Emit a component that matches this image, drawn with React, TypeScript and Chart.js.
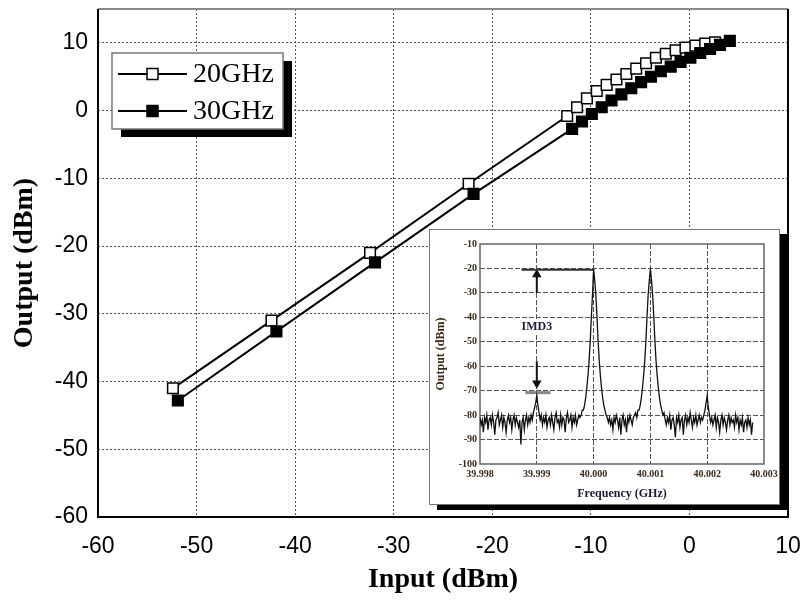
import React, { useEffect, useRef } from "react";
import { Chart, registerables } from "chart.js";

Chart.register(...registerables);

// ---------------- main chart data (Input dBm -> Output dBm) ----------------
const SERIES_LABELS = ["20GHz", "30GHz"];
const INPUT_20GHZ = [-52.4, -42.4, -32.4, -22.4, -12.4, -11.4, -10.4, -9.4, -8.4, -7.4, -6.4, -5.4, -4.4, -3.4, -2.4, -1.4, -0.4, 0.6, 1.6, 2.6];
const OUTPUT_20GHZ = [-41, -31, -21, -10.8, -0.8, 0.5, 1.8, 2.9, 3.8, 4.6, 5.4, 6.2, 7.0, 7.8, 8.4, 8.9, 9.3, 9.6, 9.9, 10.1];
const INPUT_30GHZ = [-51.9, -41.9, -31.9, -21.9, -11.9, -10.9, -9.9, -8.9, -7.9, -6.9, -5.9, -4.9, -3.9, -2.9, -1.9, -0.9, 0.1, 1.1, 2.1, 3.1, 4.1];
const OUTPUT_30GHZ = [-42.8, -32.6, -22.4, -12.3, -2.7, -1.6, -0.5, 0.5, 1.5, 2.4, 3.3, 4.2, 5.0, 5.8, 6.5, 7.2, 7.8, 8.5, 9.1, 9.7, 10.3];
const MAIN_X_TICKS = [-60, -50, -40, -30, -20, -10, 0, 10];
const MAIN_Y_TICKS = [-60, -50, -40, -30, -20, -10, 0, 10];
const MAIN_X_MIN = -60, MAIN_X_MAX = 10;
const MAIN_Y_MIN = -60, MAIN_Y_MAX = 15;

// ---------------- inset: two-tone spectrum ----------------
const SPECTRUM_START_GHZ = 39.998;
const SPECTRUM_STEP_GHZ = 0.00002;
const SPECTRUM_DBM = [
  -81, -84, -82, -87, -81, -83, -80, -86, -82, -81,
  -84, -80, -83, -88, -82, -81, -79, -84, -82, -80,
  -85, -81, -83, -87, -82, -80, -83, -81, -86, -82,
  -80, -84, -81, -83, -85, -82, -92, -83, -81, -86,
  -82, -80, -84, -81, -83, -80, -82, -79, -77, -75,
  -72, -76, -79, -82, -80, -84, -81, -83, -80, -85,
  -82, -81, -84, -80, -83, -86, -81, -79, -83, -82,
  -85, -80, -84, -81, -82, -87, -81, -79, -83, -82,
  -80, -85, -81, -83, -80, -84, -82, -80, -81, -80,
  -78, -78, -76, -73, -69, -64, -58, -50, -40, -31,
  -20, -25, -31, -40, -50, -58, -64, -69, -73, -76,
  -78, -80, -81, -83, -81, -84, -82, -86, -81, -83,
  -80, -82, -85, -81, -88, -82, -80, -84, -82, -87,
  -81, -83, -80, -82, -84, -81, -80, -79, -81, -78,
  -78, -76, -73, -69, -64, -58, -50, -40, -31, -25,
  -20, -25, -31, -40, -50, -58, -64, -69, -73, -76,
  -78, -80, -79, -82, -84, -81, -83, -80, -86, -82,
  -81, -84, -89, -81, -83, -80, -85, -82, -81, -88,
  -82, -80, -84, -81, -83, -79, -82, -85, -81, -83,
  -80, -84, -82, -80, -83, -81, -82, -80, -78, -75,
  -72, -77, -80, -83, -81, -84, -82, -80, -85, -81,
  -83, -87, -82, -80, -84, -81, -83, -86, -82, -80,
  -84, -81, -83, -82, -85, -80, -83, -81, -86, -82,
  -84, -81, -87, -83, -82, -85, -81, -84, -82, -88,
  -83,
];
const INSET_X_TICKS = [39.998, 39.999, 40.0, 40.001, 40.002, 40.003];
const INSET_Y_TICKS = [-100, -90, -80, -70, -60, -50, -40, -30, -20, -10];
const INSET_X_MIN = 39.998, INSET_X_MAX = 40.003;
const INSET_Y_MIN = -100, INSET_Y_MAX = -10;
// annotation marks of the inset (GHz, dBm)
const CARRIER_LEVEL_X = [39.99873, 40.0];
const CARRIER_LEVEL_Y = [-20.5, -20.5];
const IMD_LEVEL_X = [39.9988, 39.99924];
const IMD_LEVEL_Y = [-70.8, -70.8];
const ARROW_UP_X = [39.999, 39.999];
const ARROW_UP_Y = [-30, -22.5];
const ARROW_DOWN_X = [39.999, 39.999];
const ARROW_DOWN_Y = [-58, -67];
const IMD_LABEL = "IMD3";
const IMD_LABEL_POS = [39.999, -44];

const pts = (xs: number[], ys: number[]) => xs.map((x, i) => ({ x, y: ys[i] }));

const near = (a: number, b: number) => Math.abs(a - b) < 1e-7;

const mainFrame = {
  id: "mainFrame",
  afterDatasetsDraw(chart: any) {
    const { ctx, chartArea: a } = chart;
    ctx.save();
    ctx.lineWidth = 2;
    ctx.strokeStyle = "#8a8a8a";
    ctx.beginPath();
    ctx.moveTo(a.left, a.top);
    ctx.lineTo(a.right, a.top);
    ctx.stroke();
    ctx.strokeStyle = "#000";
    ctx.beginPath();
    ctx.moveTo(a.right, a.top);
    ctx.lineTo(a.right, a.bottom);
    ctx.lineTo(a.left, a.bottom);
    ctx.lineTo(a.left, a.top);
    ctx.stroke();
    ctx.restore();
  },
};

const mainLegend = {
  id: "mainLegend",
  afterDraw(chart: any) {
    const { ctx, chartArea: a } = chart;
    const bx = a.left + 14, by = a.top + 44, bw = 171, bh = 76;
    ctx.save();
    ctx.fillStyle = "#000";
    ctx.fillRect(bx + 9, by + 8, bw, bh);
    ctx.fillStyle = "#fff";
    ctx.fillRect(bx, by, bw, bh);
    ctx.lineWidth = 1.5;
    ctx.strokeStyle = "#777";
    ctx.strokeRect(bx, by, bw, bh);
    const rows = [
      { label: SERIES_LABELS[0], fill: "#fff", y: by + 21 },
      { label: SERIES_LABELS[1], fill: "#000", y: by + 58 },
    ];
    rows.forEach((r) => {
      ctx.strokeStyle = "#000";
      ctx.lineWidth = 2;
      ctx.beginPath();
      ctx.moveTo(bx + 6, r.y);
      ctx.lineTo(bx + 75, r.y);
      ctx.stroke();
      ctx.fillStyle = r.fill;
      ctx.lineWidth = 1.5;
      ctx.fillRect(bx + 35, r.y - 5.5, 11, 11);
      ctx.strokeRect(bx + 35, r.y - 5.5, 11, 11);
      ctx.fillStyle = "#000";
      ctx.font = "28px 'Liberation Serif'";
      ctx.textBaseline = "middle";
      ctx.textAlign = "left";
      ctx.fillText(r.label, bx + 81, r.y + 1);
    });
    ctx.restore();
  },
};

const insetFrame = {
  id: "insetFrame",
  beforeDatasetsDraw(chart: any) {
    const { ctx, chartArea: a } = chart;
    ctx.save();
    ctx.lineWidth = 1.5;
    ctx.strokeStyle = "#666";
    ctx.strokeRect(a.left, a.top, a.right - a.left, a.bottom - a.top);
    ctx.restore();
  },
  afterDraw(chart: any) {
    const { ctx, scales } = chart;
    const px = scales.x.getPixelForValue(IMD_LABEL_POS[0]);
    const py = scales.y.getPixelForValue(IMD_LABEL_POS[1]);
    ctx.save();
    ctx.font = "bold 12px 'Liberation Serif'";
    const w = ctx.measureText(IMD_LABEL).width;
    ctx.fillStyle = "#fff";
    ctx.fillRect(px - w / 2 - 1, py - 7, w + 2, 14);
    ctx.fillStyle = "#1c1c3a";
    ctx.textAlign = "center";
    ctx.textBaseline = "middle";
    ctx.fillText(IMD_LABEL, px, py);
    ctx.restore();
  },
};

export default function App() {
  const mainRef = useRef<HTMLCanvasElement | null>(null);
  const insetRef = useRef<HTMLCanvasElement | null>(null);

  useEffect(() => {
    const main = new Chart(mainRef.current as HTMLCanvasElement, {
      type: "line",
      data: {
        datasets: [
          {
            label: SERIES_LABELS[1],
            data: pts(INPUT_30GHZ, OUTPUT_30GHZ),
            borderColor: "#000",
            borderWidth: 2,
            pointStyle: "rect",
            pointRadius: 7.5,
            pointBackgroundColor: "#000",
            pointBorderColor: "#000",
            pointBorderWidth: 1.5,
            order: 1,
          },
          {
            label: SERIES_LABELS[0],
            data: pts(INPUT_20GHZ, OUTPUT_20GHZ),
            borderColor: "#000",
            borderWidth: 2,
            pointStyle: "rect",
            pointRadius: 7.5,
            pointBackgroundColor: "#fff",
            pointBorderColor: "#000",
            pointBorderWidth: 1.5,
            order: 2,
          },
        ],
      },
      options: {
        animation: false,
        responsive: false,
        layout: { padding: { left: 0, top: 7, right: 16, bottom: 0 } },
        plugins: { legend: { display: false }, tooltip: { enabled: false } },
        scales: {
          x: {
            type: "linear",
            min: MAIN_X_MIN,
            max: MAIN_X_MAX,
            afterBuildTicks: (s: any) => {
              s.ticks = MAIN_X_TICKS.map((v) => ({ value: v }));
            },
            ticks: {
              font: { family: "'Liberation Sans', Arial", size: 23 },
              color: "#000",
              padding: 16,
              maxRotation: 0,
              autoSkip: false,
            },
            grid: {
              drawTicks: false,
              lineWidth: 1,
              color: (c: any) =>
                c.tick && (near(c.tick.value, MAIN_X_MIN) || near(c.tick.value, MAIN_X_MAX)) ? "rgba(0,0,0,0)" : "#555",
            },
            border: { display: false, dash: [2, 2] },
            title: {
              display: true,
              text: "Input (dBm)",
              font: { family: "'Liberation Serif'", size: 28, weight: "bold" },
              color: "#000",
              padding: { top: 9, bottom: 9 },
            },
            afterFit: (s: any) => {
              s.height = 89;
              s.paddingLeft = 0;
              s.paddingRight = 0;
            },
          },
          y: {
            type: "linear",
            min: MAIN_Y_MIN,
            max: MAIN_Y_MAX,
            afterBuildTicks: (s: any) => {
              s.ticks = MAIN_Y_TICKS.map((v) => ({ value: v }));
            },
            ticks: {
              font: { family: "'Liberation Sans', Arial", size: 23 },
              color: "#000",
              padding: 10,
              autoSkip: false,
            },
            grid: {
              drawTicks: false,
              lineWidth: 1,
              color: (c: any) => (c.tick && near(c.tick.value, MAIN_Y_MIN) ? "rgba(0,0,0,0)" : "#555"),
            },
            border: { display: false, dash: [2, 2] },
            title: {
              display: true,
              text: "Output (dBm)",
              font: { family: "'Liberation Serif'", size: 28, weight: "bold" },
              color: "#000",
              padding: { top: 8, bottom: 8 },
            },
            afterFit: (s: any) => {
              s.width = 98;
              s.paddingTop = 0;
              s.paddingBottom = 0;
            },
          },
        },
      },
      plugins: [mainFrame, mainLegend],
    } as any);

    const inset = new Chart(insetRef.current as HTMLCanvasElement, {
      type: "line",
      data: {
        datasets: [
          {
            data: SPECTRUM_DBM.map((y, i) => ({ x: SPECTRUM_START_GHZ + i * SPECTRUM_STEP_GHZ, y })),
            borderColor: "#111",
            borderWidth: 1.3,
            pointRadius: 0,
          },
          {
            data: pts(CARRIER_LEVEL_X, CARRIER_LEVEL_Y),
            borderColor: "#333",
            borderWidth: 2,
            pointRadius: 0,
          },
          {
            data: pts(IMD_LEVEL_X, IMD_LEVEL_Y),
            borderColor: "#888",
            borderWidth: 3,
            pointRadius: 0,
          },
          {
            data: pts(ARROW_UP_X, ARROW_UP_Y),
            borderColor: "#111",
            borderWidth: 2,
            pointRadius: [0, 3.5],
            pointStyle: "triangle",
            pointRotation: 0,
            pointBackgroundColor: "#111",
            pointBorderColor: "#111",
          },
          {
            data: pts(ARROW_DOWN_X, ARROW_DOWN_Y),
            borderColor: "#111",
            borderWidth: 2,
            pointRadius: [0, 3.5],
            pointStyle: "triangle",
            pointRotation: 180,
            pointBackgroundColor: "#111",
            pointBorderColor: "#111",
          },
        ],
      },
      options: {
        animation: false,
        responsive: false,
        layout: { padding: { left: 0, top: 14, right: 15, bottom: 0 } },
        plugins: { legend: { display: false }, tooltip: { enabled: false } },
        scales: {
          x: {
            type: "linear",
            min: INSET_X_MIN,
            max: INSET_X_MAX,
            afterBuildTicks: (s: any) => {
              s.ticks = INSET_X_TICKS.map((v) => ({ value: v }));
            },
            ticks: {
              callback: (v: any) => Number(v).toFixed(3),
              font: { family: "'Liberation Serif'", size: 10, weight: "bold" },
              color: "#3a2a1a",
              padding: 4,
              maxRotation: 0,
              autoSkip: false,
            },
            grid: {
              drawTicks: false,
              lineWidth: 1,
              color: (c: any) =>
                c.tick && (near(c.tick.value, INSET_X_MIN) || near(c.tick.value, INSET_X_MAX)) ? "rgba(0,0,0,0)" : "#555",
            },
            border: { display: false, dash: [5, 2] },
            title: {
              display: true,
              text: "Frequency (GHz)",
              font: { family: "'Liberation Serif'", size: 12, weight: "bold" },
              color: "#1c1c3a",
              padding: { top: 3, bottom: 3 },
            },
            afterFit: (s: any) => {
              s.height = 40;
              s.paddingLeft = 0;
              s.paddingRight = 0;
            },
          },
          y: {
            type: "linear",
            min: INSET_Y_MIN,
            max: INSET_Y_MAX,
            afterBuildTicks: (s: any) => {
              s.ticks = INSET_Y_TICKS.map((v) => ({ value: v }));
            },
            ticks: {
              font: { family: "'Liberation Serif'", size: 10, weight: "bold" },
              color: "#3a2a1a",
              padding: 3,
              autoSkip: false,
            },
            grid: {
              drawTicks: false,
              lineWidth: 1,
              color: (c: any) =>
                c.tick && (near(c.tick.value, INSET_Y_MIN) || near(c.tick.value, INSET_Y_MAX)) ? "rgba(0,0,0,0)" : "#555",
            },
            border: { display: false, dash: [5, 2] },
            title: {
              display: true,
              text: "Output (dBm)",
              font: { family: "'Liberation Serif'", size: 12, weight: "bold" },
              color: "#3a2a1a",
              padding: { top: 4, bottom: 4 },
            },
            afterFit: (s: any) => {
              s.width = 50;
              s.paddingTop = 0;
              s.paddingBottom = 0;
            },
          },
        },
      },
      plugins: [insetFrame],
    } as any);

    return () => {
      main.destroy();
      inset.destroy();
    };
  }, []);

  return (
    <div style={{ position: "fixed", left: 0, top: 0, width: 804, height: 606, background: "#fff", overflow: "hidden" }}>
      <canvas
        ref={mainRef}
        width={804}
        height={606}
        style={{ position: "absolute", left: 0, top: 0, width: 804, height: 606 }}
      />
      <div
        style={{
          position: "absolute",
          left: 429,
          top: 229,
          width: 351,
          height: 276,
          boxSizing: "border-box",
          border: "1px solid #777",
          background: "#fff",
          boxShadow: "8px 5px 0 #000",
        }}
      >
        <canvas ref={insetRef} width={349} height={274} style={{ display: "block", width: 349, height: 274 }} />
      </div>
    </div>
  );
}
